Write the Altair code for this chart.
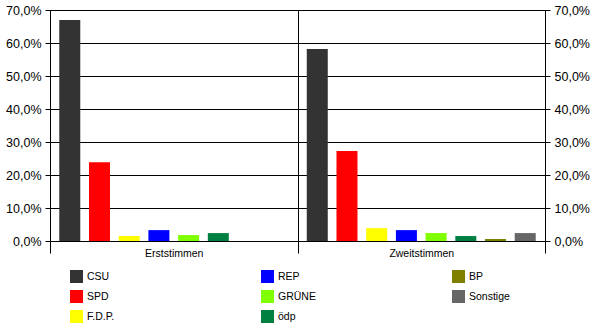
import altair as alt
import pandas as pd

groups = ["Erststimmen", "Zweitstimmen"]
parties = ["CSU", "SPD", "F.D.P.", "REP", "GRÜNE", "ödp", "BP", "Sonstige"]
party_colors = ["#333333", "#FF0000", "#FFFF00", "#0000FF", "#80FF00", "#008040", "#808000", "#666666"]
erststimmen = [67.0, 23.9, 1.5, 3.3, 1.8, 2.4, None, None]
zweitstimmen = [58.2, 27.3, 3.9, 3.3, 2.4, 1.5, 0.6, 2.4]
y_ticks = [0, 10, 20, 30, 40, 50, 60, 70]

rows = []
for g, vals in zip(groups, [erststimmen, zweitstimmen]):
    for p, v in zip(parties, vals):
        if v is not None:
            rows.append({"group": g, "party": p, "value": v})
df = pd.DataFrame(rows)

FONT = "Liberation Sans"

x_enc = alt.X(
    "group:N",
    scale=alt.Scale(domain=groups, paddingInner=0, paddingOuter=0),
    axis=alt.Axis(
        title=None, tickBand="extent", grid=True, gridColor="black", gridWidth=1,
        ticks=True, tickSize=12, tickColor="black", domainColor="black",
        labelPadding=-5, labelFontSize=10.5, labelColor="black", labelFont=FONT,
        labelAngle=0,
    ),
)
xoff_enc = alt.XOffset(
    "party:N", scale=alt.Scale(domain=parties, paddingInner=0.293, paddingOuter=0.312)
)
label_expr = "replace(format(datum.value, '.1f'), '.', ',') + '%'"

def y_enc(orient, grid):
    return alt.Y(
        "value:Q",
        scale=alt.Scale(domain=[0, 70], nice=False, zero=True),
        axis=alt.Axis(
            title=None, orient=orient, values=y_ticks, labelExpr=label_expr,
            grid=grid, gridColor="black", gridWidth=1, tickSize=5, tickColor="black",
            domainColor="black", labelPadding=4, labelFontSize=12.5,
            labelColor="black", labelFont=FONT,
        ),
    )

bars = alt.Chart(df).mark_bar().encode(
    x=x_enc,
    xOffset=xoff_enc,
    y=y_enc("left", True),
    color=alt.Color(
        "party:N",
        scale=alt.Scale(domain=parties, range=party_colors),
        legend=alt.Legend(
            title=None, orient="none", legendX=20, legendY=260, columns=3,
            columnPadding=133, rowPadding=7, symbolType="square", symbolSize=169,
            symbolStrokeWidth=0, labelOffset=4, gridAlign="all", padding=0,
            labelFontSize=10.5, labelFont=FONT, labelColor="black",
        ),
    ),
)

right = alt.Chart(df).mark_bar(opacity=0).encode(
    x=x_enc,
    xOffset=xoff_enc,
    y=y_enc("right", False),
)

chart = (
    alt.layer(bars, right)
    .resolve_scale(y="shared")
    .resolve_axis(y="independent")
    .properties(
        width=495, height=231, autosize=alt.AutoSizeParams(type="none"),
        padding={"left": 50, "top": 10, "right": 55, "bottom": 92},
        background="white",
    )
    .configure_view(stroke=None)
)

chart.save("out.html", embed_options={"renderer": "svg", "actions": False})
